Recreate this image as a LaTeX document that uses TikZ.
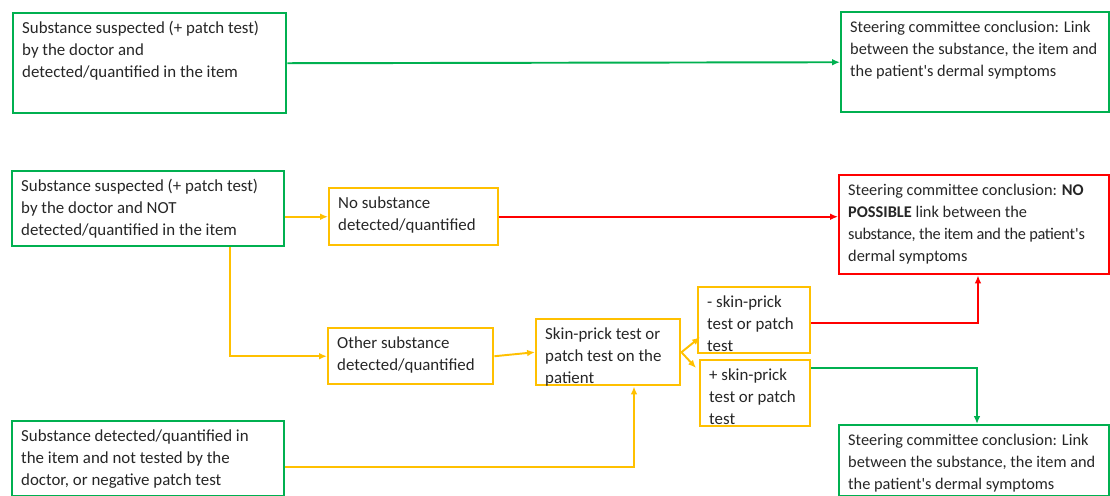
\documentclass[tikz,border=0pt]{standalone}
\usepackage{fontspec}
\setmainfont{Carlito}
\usetikzlibrary{arrows.meta, positioning}

\definecolor{okgreen}{RGB}{0,176,80}
\definecolor{midyellow}{RGB}{255,192,0}
\definecolor{nored}{RGB}{255,0,0}

\newlength{\px}
\setlength{\px}{0.02cm}
\newcommand{\boxtext}[3]{\parbox[c][#2\px][t]{#1\px}{\raggedright\strut #3}}

\begin{document}
\begin{tikzpicture}[x=0.02cm, y=-0.02cm,
  every node/.style={font=\fontsize{9.6}{12.5}\selectfont, text=black!85},
  flowbox/.style={draw=#1, line width=1.4pt, anchor=north west, inner xsep=9\px, inner ysep=5\px},
  endbox/.style={flowbox=#1, font=\fontsize{9.3}{12.5}\selectfont},
  conn/.style={draw=#1, line width=1.1pt, -{Latex[length=4.5pt, width=3.8pt]}}]
  \useasboundingbox (0,0) rectangle (1110,496);

  % Top row (substance suspected and detected)
  \node (suspdet) [flowbox=okgreen] at (12,12) {\boxtext{255}{90}{Substance suspected (+ patch test)\\by the doctor and\\detected/quantified in the item}};
  \node (linktop) [endbox=okgreen] at (840,11) {\boxtext{250}{90}{Steering committee conclusion: Link\\between the substance, the item and\\the patient\textquotesingle s dermal symptoms}};
  \draw[conn=okgreen] (suspdet.east) -- (linktop.west);

  % Middle row (substance suspected and not detected)
  \node (suspnot) [flowbox=okgreen] at (11,170) {\boxtext{254}{65}{Substance suspected (+ patch test)\\by the doctor and NOT\\detected/quantified in the item}};
  \node (nosub) [flowbox=midyellow] at (328,187) {\boxtext{151}{47}{No substance\\detected/quantified}};
  \node (nolink) [endbox=nored] at (838,174) {\boxtext{252}{89}{Steering committee conclusion: \textbf{NO}\\\textbf{POSSIBLE} link between the\\{\addfontfeatures{LetterSpace=-2}substance, the item and the patient\textquotesingle s}\\dermal symptoms}};
  \draw[conn=midyellow] (suspnot.east |- nosub.west) -- (nosub.west);
  \draw[conn=nored] (nosub.east) -- (nosub.east -| nolink.west);

  % Other substance and skin tests
  \node (othersub) [flowbox=midyellow] at (327,327) {\boxtext{147}{46}{Other substance\\detected/quantified}};
  \node (skintest) [flowbox=midyellow] at (535,318) {\boxtext{126}{56}{Skin-prick test or\\patch test on the\\patient}};
  \node (negtest) [flowbox=midyellow] at (697,286) {\boxtext{94}{56}{- skin-prick\\test or patch\\test}};
  \node (postest) [flowbox=midyellow] at (699,359) {\boxtext{92}{56}{+ skin-prick\\test or patch\\test}};
  \node (linkbot) [endbox=okgreen] at (838,424) {\boxtext{252}{61}{Steering committee conclusion: Link\\between the substance, the item and\\the patient\textquotesingle s dermal symptoms}};
  \draw[conn=midyellow] ([xshift=219\px]suspnot.south west) |- (othersub.west);
  \draw[conn=midyellow] (othersub.east) -- (skintest.west);
  \draw[conn=midyellow] (skintest.east) -- ([xshift=3\px, yshift=-17\px]negtest.west);
  \draw[conn=midyellow] (skintest.east) -- ([xshift=-3\px, yshift=-9\px]postest.north west);
  \draw[conn=nored] ([yshift=-3\px]negtest.east) -| ([xshift=140\px]nolink.south west);
  \draw[conn=okgreen] ([yshift=-9\px]postest.north east) -| ([xshift=139\px]linkbot.north west);

  % Bottom row (detected, not tested)
  \node (detnot) [flowbox=okgreen] at (11,420) {\boxtext{254}{65}{Substance detected/quantified in\\the item and not tested by the\\doctor, or negative patch test}};
  \draw[conn=midyellow] ([yshift=-8\px]detnot.east) -| ([xshift=99\px]skintest.south west);
\end{tikzpicture}
\end{document}
